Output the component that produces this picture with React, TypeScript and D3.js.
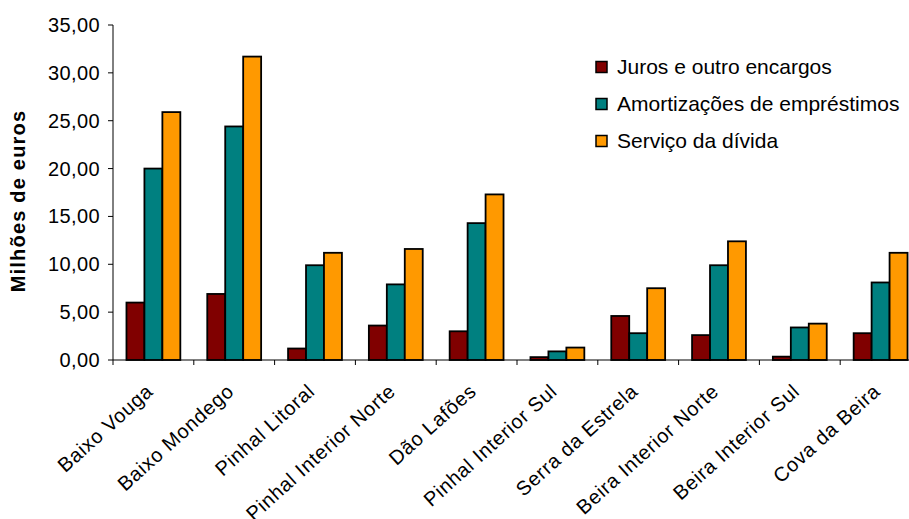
import React from "react";
import * as d3 from "d3";

const categories = [
  "Baixo Vouga",
  "Baixo Mondego",
  "Pinhal Litoral",
  "Pinhal Interior Norte",
  "Dão Lafões",
  "Pinhal Interior Sul",
  "Serra da Estrela",
  "Beira Interior Norte",
  "Beira Interior Sul",
  "Cova da Beira",
];
const juros = [6.0, 6.9, 1.2, 3.6, 3.0, 0.3, 4.6, 2.6, 0.35, 2.8];
const amortizacoes = [20.0, 24.4, 9.9, 7.9, 14.3, 0.9, 2.8, 9.9, 3.4, 8.1];
const servico = [25.9, 31.7, 11.2, 11.6, 17.3, 1.3, 7.5, 12.4, 3.8, 11.2];
const seriesNames = ["Juros e outro encargos", "Amortizações de empréstimos", "Serviço da dívida"];
const seriesColors = ["#800000", "#008080", "#FF9900"];
const yTicks = [0, 5, 10, 15, 20, 25, 30, 35];

const W = 909;
const H = 519;
const left = 113;
const right = 921;
const top = 25;
const bottom = 360;
const font = "Liberation Sans, Arial, sans-serif";

export default function App() {
  const series = [juros, amortizacoes, servico];
  const x = d3.scaleBand<string>().domain(categories).range([left, right]).paddingInner(0).paddingOuter(0);
  const bw = x.bandwidth() / 4.5;
  const y = d3.scaleLinear().domain([0, 35]).range([bottom, top]);
  const fmt = (v: number) => v.toFixed(2).replace(".", ",");

  return (
    <svg width={W} height={H} style={{ position: "absolute", left: 0, top: 0, background: "#fff" }} fontFamily={font}>
      {/* y axis */}
      <line x1={left} x2={left} y1={top} y2={bottom} stroke="#000" strokeWidth={1} />
      {yTicks.map((t) => (
        <g key={t}>
          <line x1={left - 5} x2={left} y1={y(t)} y2={y(t)} stroke="#000" />
          <text x={left - 13} y={y(t)} dy="0.35em" textAnchor="end" fontSize={20} letterSpacing={0.4} fill="#000">
            {fmt(t)}
          </text>
        </g>
      ))}
      <text
        transform={`translate(25,${201}) rotate(-90)`}
        textAnchor="middle"
        fontSize={20}
        fontWeight="bold"
        letterSpacing={1.2}
        fill="#000"
      >
        Milhões de euros
      </text>
      {/* bars */}
      {categories.map((c, i) => {
        const x0 = (x(c) as number) + (x.bandwidth() - 3 * bw) / 2;
        return (
          <g key={c}>
            {series.map((s, k) => (
              <rect
                key={k}
                x={x0 + k * bw}
                y={y(s[i])}
                width={bw}
                height={y(0) - y(s[i])}
                fill={seriesColors[k]}
                stroke="#000"
                strokeWidth={1.8}
              />
            ))}
          </g>
        );
      })}
      {/* x axis */}
      <line x1={left} x2={right} y1={bottom} y2={bottom} stroke="#000" strokeWidth={1} />
      {[...categories.map((c) => x(c) as number), right].map((t, i) => (
        <line key={i} x1={t} x2={t} y1={bottom} y2={bottom + 5} stroke="#000" />
      ))}
      {categories.map((c) => {
        const cx = (x(c) as number) + x.bandwidth() / 2;
        return (
          <text
            key={c}
            transform={`translate(${cx + 1},${393}) rotate(-42)`}
            textAnchor="end"
            fontSize={20}
            letterSpacing={0.7}
            fill="#000"
          >
            {c}
          </text>
        );
      })}
      {/* legend */}
      {seriesNames.map((n, k) => (
        <g key={n} transform={`translate(596,${67 + k * 37})`}>
          <rect x={0} y={-5.5} width={11} height={11} fill={seriesColors[k]} stroke="#000" strokeWidth={1.5} />
          <text x={21} y={0} dy="0.35em" fontSize={21} fill="#000">
            {n}
          </text>
        </g>
      ))}
    </svg>
  );
}
